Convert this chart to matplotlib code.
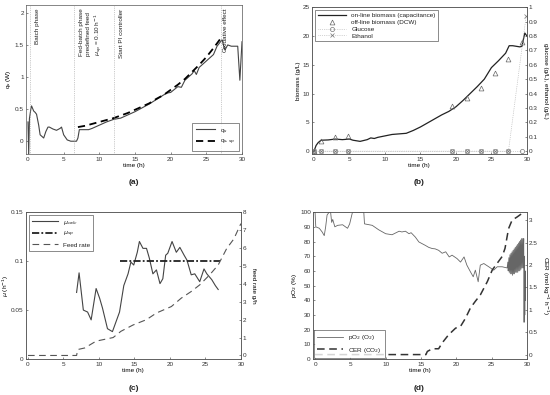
import matplotlib.pyplot as plt
import numpy as np

# ---- (a) heat flow ----
qs_t = [0.0, 0.1, 0.2, 0.4, 0.5, 0.8, 1.0, 1.2, 1.5, 1.7, 2.0, 2.2, 2.5, 2.8, 3.0, 3.5, 4.0, 4.5,
        4.7, 5.0, 5.5, 6.0, 6.5, 6.8, 7.0, 7.2, 8.0, 8.5, 9.0, 10.0, 11.0, 12.0, 13.0, 14.0, 15.0,
        16.0, 17.0, 18.0, 19.0, 19.5, 20.0, 21.0, 21.5, 22.0, 22.5, 23.0, 23.3, 23.6, 24.0, 24.5,
        25.0, 25.5, 26.0, 26.5, 27.2, 27.6, 28.0, 28.5, 29.0, 29.4, 29.7, 30.0]
qs = [0.3, -0.2, 0.35, 0.5, 0.55, 0.47, 0.45, 0.42, 0.25, 0.1, 0.07, 0.05, 0.15, 0.22, 0.22, 0.19,
      0.17, 0.2, 0.22, 0.1, 0.02, 0.0, 0.0, 0.0, 0.05, 0.18, 0.18, 0.18, 0.2, 0.25, 0.3, 0.34, 0.36,
      0.41, 0.46, 0.52, 0.58, 0.65, 0.72, 0.75, 0.76, 0.85, 0.84, 0.95, 1.0, 1.05, 1.1, 1.04, 1.15,
      1.2, 1.25, 1.3, 1.35, 1.48, 1.58, 1.42, 1.5, 1.48, 1.48, 1.48, 0.95, 1.55]
qsp_t = [7, 8, 9, 10, 11, 12, 13, 14, 15, 16, 17, 18, 19, 20, 21, 22, 23, 24, 25, 26, 27]
qsp = [0.22, 0.24, 0.27, 0.30, 0.33, 0.36, 0.40, 0.44, 0.49, 0.54, 0.59, 0.66, 0.72, 0.80, 0.88,
       0.97, 1.08, 1.19, 1.31, 1.45, 1.60]
phase_x = [0.3, 6.5, 12.0, 27.0]
phase_txt = ['Batch phase', 'Fed-batch phase\npredefined feed\n$\\mu_{sp}$ = 0.10 h$^{-1}$',
             'Start PI controller', 'Oxidative effect']
phase_tx = [1.0, 7.2, 12.7, 27.3]

# ---- (b) biomass ----
bio_t = [0, 0.3, 0.6, 1, 2, 3, 4, 5, 5.5, 6.5, 7.5, 8, 8.5, 9, 10, 11, 12, 13, 14, 15, 16, 17, 18,
         19, 20, 21, 22, 23, 24, 25, 26, 27, 27.5, 28, 29, 29.3, 29.7, 30]
bio = [0, 1.0, 1.5, 1.9, 1.95, 2.1, 2.0, 2.1, 1.9, 1.7, 2.0, 2.3, 2.2, 2.4, 2.65, 2.9, 3.0, 3.1, 3.6,
       4.2, 4.9, 5.6, 6.3, 6.9, 7.7, 8.8, 10.0, 11.2, 12.5, 14.5, 15.7, 17.0, 18.3, 18.3, 18.1,
       18.2, 20.5, 20.0]
dcw_t = [0, 1.0, 3.0, 4.8, 19.4, 21.5, 23.5, 25.5, 27.4, 29.3]
dcw = [0, 1.7, 2.5, 2.7, 7.8, 9.3, 11.0, 13.5, 16.0, 19.0]
glc = [0, 0, 0, 0, 0, 0, 0, 0, 0, 0]
eth_t = [0, 1.0, 3.0, 4.8, 19.4, 21.5, 23.5, 25.5, 27.4, 29.9]
eth = [0, 0, 0, 0, 0, 0, 0, 0, 0, 0.94]

# ---- (c) growth rate ----
mu_t = [6.85, 7.2, 7.8, 8.4, 8.9, 9.6, 10.1, 10.5, 11.2, 11.9, 12.4, 12.9, 13.5, 14.1, 14.5, 14.9,
        15.4, 15.7, 16.2, 16.7, 17.1, 17.6, 18.1, 18.6, 19.0, 19.4, 19.7, 20.3, 20.9, 21.4, 22.0,
        22.4, 23.0, 23.5, 24.2, 24.8, 25.2, 25.9, 26.4, 26.8]
mu = [0.068, 0.088, 0.05, 0.048, 0.04, 0.072, 0.062, 0.052, 0.031, 0.028, 0.038, 0.048, 0.075,
      0.087, 0.099, 0.096, 0.109, 0.12, 0.113, 0.113, 0.103, 0.087, 0.091, 0.077, 0.082, 0.106,
      0.108, 0.12, 0.109, 0.114, 0.106, 0.101, 0.086, 0.087, 0.079, 0.092, 0.087, 0.081, 0.075,
      0.071]
musp_t = [13.0, 27.0]
musp = [0.1, 0.1]
feed_t = [0, 6.85, 7.0, 8.0, 9.6, 12.0, 13.1, 14.8, 16.7, 18.1, 20.2, 21.6, 23.0, 24.2, 25.6,
          26.8, 28.0, 29.0, 30.0]
feed = [0, 0, 0.33, 0.42, 0.8, 1.0, 1.35, 1.7, 2.0, 2.37, 2.73, 3.2, 3.57, 3.94, 4.5, 5.05,
        5.97, 6.5, 7.36]

# ---- (d) pO2 and CER ----
po2_t = [0, 0.1, 0.6, 1.0, 1.3, 1.5, 1.7, 2.0, 2.2, 2.35, 2.5, 2.8, 3.2, 3.9, 4.3, 4.6, 4.9, 5.3,
         6.9, 7.0, 8.1, 9.0, 10.0, 10.9, 11.9, 12.3, 12.8, 13.3, 13.6, 14.2, 14.7, 15.6, 16.1,
         16.6, 17.0, 17.5, 18.0, 18.5, 19.0, 19.4, 20.1, 20.6, 21.1, 21.5, 22.0, 22.4, 22.7, 23.1,
         23.4, 23.9, 24.6, 25.3, 25.8, 26.5, 27.2,
         27.3, 27.35, 27.45, 27.5, 27.6, 27.65, 27.75, 27.8, 27.9, 27.95, 28.05, 28.1, 28.2,
         28.25, 28.35, 28.4, 28.5, 28.55, 28.65, 28.7, 28.8, 28.85, 28.95, 29.0, 29.1, 29.15,
         29.25, 29.3, 29.4, 29.45,
         29.55, 29.6, 29.65, 29.7, 29.75, 29.8]
po2 = [100, 90, 89, 86.5, 84, 90, 98, 100, 100, 93, 95, 90, 91, 91.4, 90, 89, 92, 100, 100, 92,
       91, 88, 85.3, 84.6, 87, 86.5, 87, 85.3, 86, 83, 79.7, 77.4, 76, 75.2, 75, 74, 72, 73, 69.5,
       70.7, 68.4, 66, 69.5, 63.9, 59.4, 56, 60.5, 52.6, 63.9, 65, 62.8, 60.5, 62.8, 62.8, 62,
       66, 60, 69, 59, 71, 58, 72, 58, 73, 57, 74, 58, 75, 58, 76, 59, 77, 59, 78, 59, 79, 60,
       80, 60, 81, 61, 82, 62, 82, 62,
       82, 25, 70, 30, 60, 40]
cer_t = [0, 15.7, 15.9, 16.6, 17.5, 18.0, 18.9, 19.9, 20.6, 21.3, 22.0, 22.7, 23.4, 23.9, 24.4,
         25.1, 25.8, 26.5, 26.9, 27.4, 27.9, 28.6, 29.3, 29.8]
cer = [0, 0, 0.07, 0.13, 0.13, 0.26, 0.44, 0.59, 0.63, 0.81, 1.04, 1.19, 1.33, 1.48, 1.63, 1.89,
       2.04, 2.19, 2.37, 2.81, 3.0, 3.07, 3.15, 3.22]

FS = 4.6
plt.rcParams['font.family'] = 'Liberation Sans'
plt.rcParams['font.size'] = FS
plt.rcParams['axes.linewidth'] = 0.5
plt.rcParams['xtick.major.width'] = 0.4
plt.rcParams['ytick.major.width'] = 0.4
plt.rcParams['xtick.major.size'] = 1.5
plt.rcParams['ytick.major.size'] = 1.5
plt.rcParams['xtick.major.pad'] = 2
plt.rcParams['ytick.major.pad'] = 1.5
plt.rcParams['xtick.direction'] = 'in'
plt.rcParams['ytick.direction'] = 'in'
plt.rcParams['axes.edgecolor'] = '#555555'
plt.rcParams['text.color'] = '#222222'

fig = plt.figure(figsize=(5.5, 3.95), dpi=100)
ax_a = fig.add_axes([0.047, 0.61, 0.393, 0.377])
ax_b = fig.add_axes([0.567, 0.61, 0.391, 0.372])
ax_c = fig.add_axes([0.047, 0.091, 0.391, 0.372])
ax_d = fig.add_axes([0.569, 0.091, 0.389, 0.372])

xt = [0, 5, 10, 15, 20, 25, 30]

# (a)
ax_a.plot(qs_t, qs, color='#444444', lw=0.8, label='q$_s$')
ax_a.plot(qsp_t, qsp, color='black', lw=1.3, ls=(0, (4, 2.5)), label='q$_{s,sp}$')
for x, tx, s in zip(phase_x, phase_tx, phase_txt):
    ax_a.axvline(x, color='#999999', lw=0.5, ls=':')
    ax_a.text(tx, 2.07, s, rotation=90, va='top', ha='left', fontsize=FS, linespacing=1.3)
ax_a.set_xlim(-0.3, 30)
ax_a.set_ylim(-0.2, 2.12)
ax_a.set_xticks(xt)
ax_a.set_yticks([0, 0.5, 1, 1.5, 2])
ax_a.set_yticklabels(['0', '0.5', '1', '1.5', '2'])
ax_a.set_xlabel('time (h)', labelpad=1)
ax_a.set_ylabel('q$_s$ (W)', labelpad=1)
ax_a.legend(loc='lower right', fontsize=FS, handlelength=3, frameon=True, fancybox=False,
            edgecolor='#333333', borderpad=0.6).get_frame().set_linewidth(0.5)

# (b)
ax_b.plot(bio_t, bio, color='#222222', lw=0.9, label='on-line biomass (capacitance)')
ax_b.plot(dcw_t, dcw, ls='none', marker='^', mfc='none', mec='#666666', ms=3.5, mew=0.5,
          label='off-line biomass (DCW)')
ax_b2 = ax_b.twinx()
ax_b2.plot(dcw_t, glc, color='#aaaaaa', lw=0.5, ls=':', marker='o', mfc='none', mec='#777777',
           ms=3, mew=0.5, label='Glucose')
ax_b2.plot(eth_t, eth, color='#aaaaaa', lw=0.5, ls=':', marker='x', mec='#777777', ms=3,
           mew=0.5, label='Ethanol')
ax_b.set_xlim(-0.3, 30)
ax_b.set_ylim(-0.5, 25)
ax_b2.set_ylim(-0.02, 1.0)
ax_b.set_xticks(xt)
ax_b.set_yticks([0, 5, 10, 15, 20, 25])
ax_b2.set_yticks(np.arange(0, 1.01, 0.1))
ax_b2.set_yticklabels(['0', '0.1', '0.2', '0.3', '0.4', '0.5', '0.6', '0.7', '0.8', '0.9', '1'])
ax_b.set_xlabel('time (h)', labelpad=1)
ax_b.set_ylabel('biomass (g/L)', labelpad=1)
ax_b2.set_ylabel('glucose (g/L), ethanol (g/L)', rotation=270, labelpad=7)
h1, l1 = ax_b.get_legend_handles_labels()
h2, l2 = ax_b2.get_legend_handles_labels()
ax_b2.legend(h1 + h2, l1 + l2, loc='upper left', fontsize=FS, handlelength=4.5, fancybox=False,
             edgecolor='#333333', borderpad=0.4, labelspacing=0.2).get_frame().set_linewidth(0.5)

# (c)
ax_c.plot(mu_t, mu, color='#444444', lw=0.8, label='$\\mu_{calc}$')
ax_c.plot(musp_t, musp, color='#222222', lw=1.3, ls=(0, (4, 1.2, 1, 1.2)), label='$\\mu_{sp}$')
ax_c2 = ax_c.twinx()
ax_c2.plot(feed_t, feed, color='#555555', lw=0.8, ls=(0, (6, 4)), label='Feed rate')
ax_c.set_xlim(-0.3, 30)
ax_c.set_ylim(0, 0.15)
ax_c2.set_ylim(-0.2, 8)
ax_c.set_xticks(xt)
ax_c.set_yticks([0, 0.05, 0.1, 0.15])
ax_c.set_yticklabels(['0', '0.05', '0.1', '0.15'])
ax_c2.set_yticks(range(9))
ax_c.set_xlabel('time (h)', labelpad=1)
ax_c.set_ylabel('$\\mu$ (h$^{-1}$)', labelpad=0)
ax_c2.set_ylabel('feed rate g/h', rotation=270, labelpad=7)
h1, l1 = ax_c.get_legend_handles_labels()
h2, l2 = ax_c2.get_legend_handles_labels()
ax_c2.legend(h1 + h2, l1 + l2, loc='upper left', fontsize=FS, handlelength=4, fancybox=False,
             edgecolor='#333333', borderpad=0.5).get_frame().set_linewidth(0.5)

# (d)
ax_d.plot(po2_t, po2, color='#666666', lw=0.6, label='pO$_2$ (O$_2$)')
ax_d2 = ax_d.twinx()
ax_d2.plot(cer_t, cer, color='#333333', lw=1.1, ls=(0, (5, 3)), label='CER (CO$_2$)')
ax_d.set_xlim(-0.3, 30)
ax_d.set_ylim(0, 100)
ax_d2.set_ylim(-0.1, 3.18)
ax_d.set_xticks(xt)
ax_d.set_yticks(range(0, 101, 10))
ax_d2.set_yticks([0, 0.5, 1, 1.5, 2, 2.5, 3])
ax_d2.set_yticklabels(['0', '0.5', '1', '1.5', '2', '2.5', '3'])
ax_d.set_xlabel('time (h)', labelpad=1)
ax_d.set_ylabel('pO$_2$ (%)', labelpad=1)
ax_d2.set_ylabel('CER (mol kg$^{-1}$ h$^{-1}$)', rotation=270, labelpad=9)
h1, l1 = ax_d.get_legend_handles_labels()
h2, l2 = ax_d2.get_legend_handles_labels()
ax_d2.legend(h1 + h2, l1 + l2, loc='lower left', fontsize=FS, handlelength=4, fancybox=False,
             edgecolor='#333333', borderpad=0.5, borderaxespad=0.2).get_frame().set_linewidth(0.5)

for ax in [ax_a, ax_b, ax_c, ax_d, ax_b2, ax_c2, ax_d2]:
    ax.tick_params(labelsize=FS, colors='#333333')

fig.text(0.243, 0.535, '(a)', fontsize=6, fontweight='bold', ha='center')
fig.text(0.762, 0.535, '(b)', fontsize=6, fontweight='bold', ha='center')
fig.text(0.243, 0.012, '(c)', fontsize=6, fontweight='bold', ha='center')
fig.text(0.762, 0.012, '(d)', fontsize=6, fontweight='bold', ha='center')

fig.savefig('out.png', dpi=100)
